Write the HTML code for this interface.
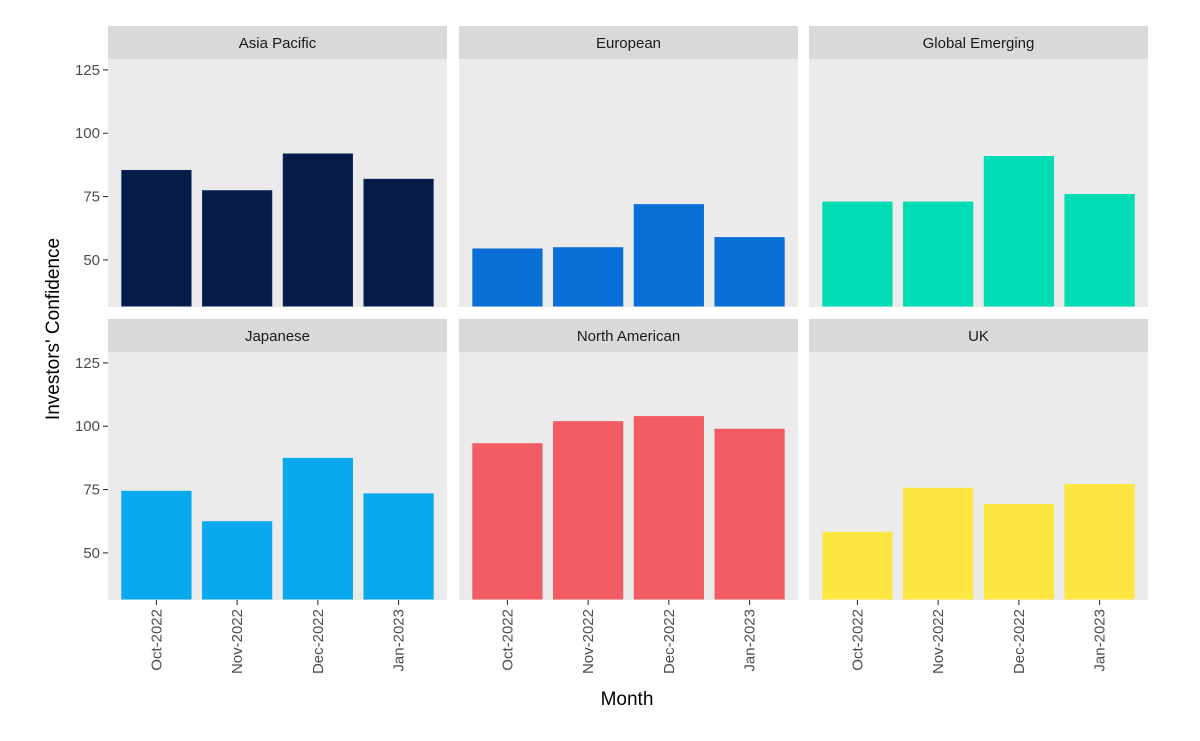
<!DOCTYPE html>
<html><head><meta charset="utf-8"><style>
body{margin:0;background:#fff;}
svg{display:block;font-family:"Liberation Sans",Arial,sans-serif;}
</style></head><body>
<svg id="c" width="1200" height="741"></svg>
<script>
const categories=["Oct-2022","Nov-2022","Dec-2022","Jan-2023"];
const panelNames=["Asia Pacific","European","Global Emerging","Japanese","North American","UK"];
const asiaPacific=[85.5,77.5,92,82];
const european=[54.5,55,72,59];
const globalEmerging=[73,73,91,76];
const japanese=[74.5,62.5,87.5,73.5];
const northAmerican=[93.3,102,104,99];
const uk=[58.3,75.7,69.3,77.2];
const yTicks=[50,75,100,125];
const series=[asiaPacific,european,globalEmerging,japanese,northAmerican,uk];
const colors=["#061c48","#0b6fd8","#00dcb4","#0aa9ee","#f25c63","#fde642"];
const strokes=["#0c2658","#0b6fd8","#00dcb4","#0aa9ee","#f25c63","#fde642"];
const NS="http://www.w3.org/2000/svg";
const svg=document.getElementById('c');
function el(t,a,p){const e=document.createElementNS(NS,t);for(const k in a)e.setAttribute(k,a[k]);(p||svg).appendChild(e);return e;}
const colX=[108,459,809],pw=339;
const rowStrip=[26,319],rowTop=[59,352],ph=248;
const yMin=31.4,yMax=129.3;
function yS(v,r){return rowTop[r]+ph*(yMax-v)/(yMax-yMin);}
const step=pw/4.2;
function xS(i,c){return colX[c]+step*(0.6+i);}
for(let p=0;p<6;p++){
  const c=p%3,r=Math.floor(p/3);
  const g=el('g',{});
  
  
  const bg=el('rect',{x:colX[c],y:rowTop[r],width:pw,height:ph,fill:"#ebebeb"},g);
  
  const st=el('rect',{x:colX[c],y:rowStrip[r],width:pw,height:33,fill:"#d9d9d9"},g);
  
  const stt=el('text',{x:colX[c]+pw/2,y:rowStrip[r]+22,"text-anchor":"middle","font-size":15,fill:"#1a1a1a"},g);
  stt.textContent=panelNames[p];
  
  series[p].forEach((v,i)=>{
    const bw=step*0.87,x=xS(i,c)-bw/2,y=yS(v,r);
    const b=el('rect',{x:x+0.5,y:y+0.5,width:bw-1,height:rowTop[r]+ph-y-1.5,fill:colors[p],stroke:strokes[p],"stroke-width":1},g);
    
    
  });
  if(c===0){
    yTicks.forEach(t=>{
      el('line',{x1:colX[c]-5,x2:colX[c],y1:yS(t,r),y2:yS(t,r),stroke:"#333","stroke-width":1.1});
      const tx=el('text',{x:colX[c]-8,y:yS(t,r)+5,"text-anchor":"end","font-size":15,fill:"#4d4d4d"});
      tx.textContent=t;
      
    });
  }
  if(r===1){
    categories.forEach((cat,i)=>{
      const x=xS(i,c),yb=rowTop[r]+ph;
      el('line',{x1:x,x2:x,y1:yb,y2:yb+5,stroke:"#333","stroke-width":1.1});
      const tx=el('text',{x:0,y:0,"text-anchor":"end","font-size":15,fill:"#4d4d4d",transform:`translate(${x+5},${yb+9}) rotate(-90)`});
      tx.textContent=cat;
      
    });
  }
}
const xt=el('text',{x:627,y:705,"text-anchor":"middle","font-size":19,fill:"#000"});
xt.textContent="Month";
const yt=el('text',{x:0,y:0,"text-anchor":"middle","font-size":19,fill:"#000",transform:"translate(59,329) rotate(-90)"});
yt.textContent="Investors' Confidence";
</script>
</body></html>
